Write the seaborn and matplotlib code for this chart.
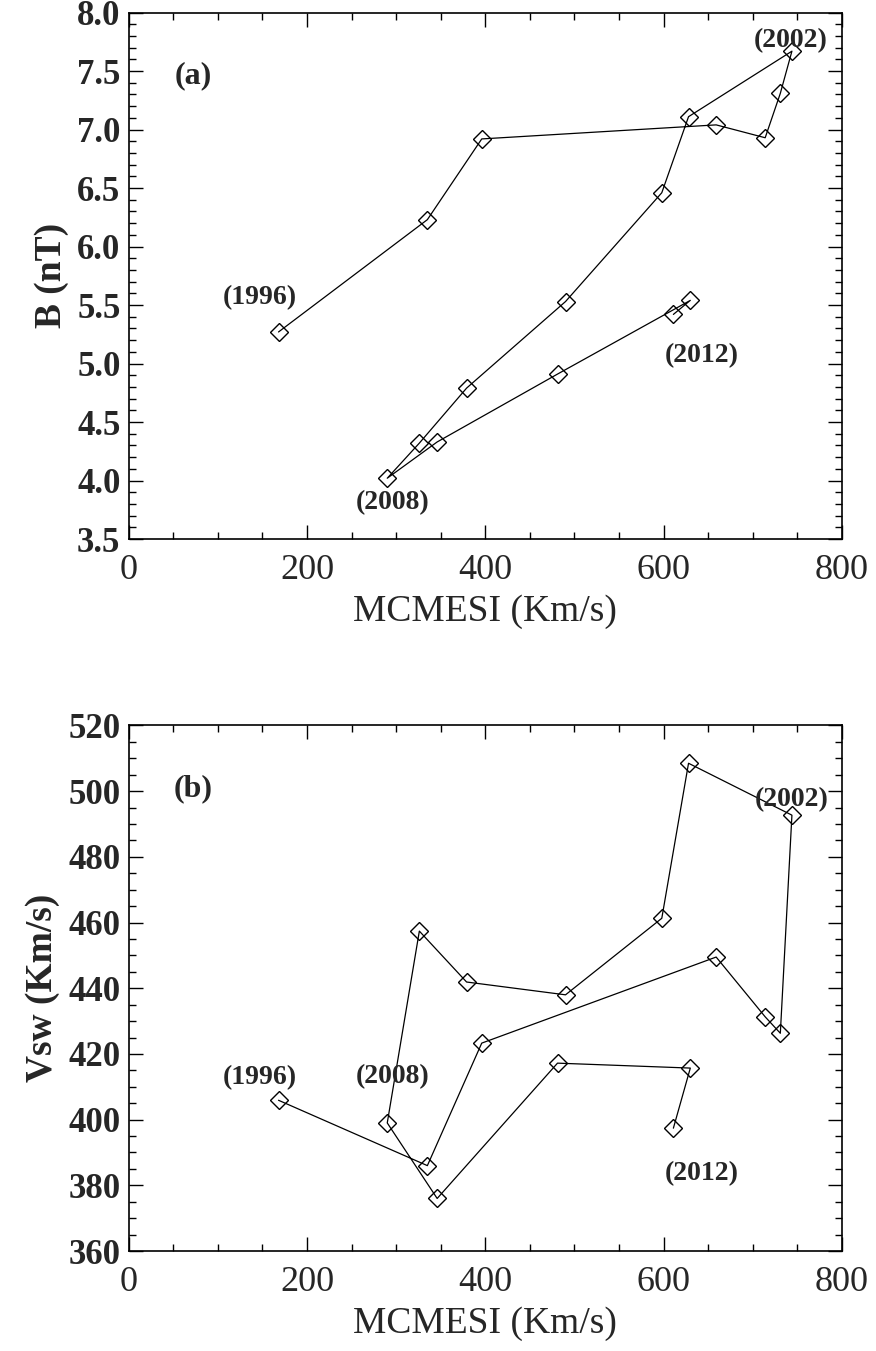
import matplotlib
matplotlib.use("Agg")
import matplotlib.pyplot as plt
import seaborn as sns
import pandas as pd
from matplotlib.ticker import MultipleLocator

years = list(range(1996, 2013))
mcmesi = [168, 335, 396, 659, 714, 731, 744, 628, 598, 490, 379, 326, 290, 346, 481, 630, 611]
b_field = [5.27, 6.23, 6.92, 7.04, 6.93, 7.31, 7.67, 7.11, 6.46, 5.53, 4.79, 4.32, 4.02, 4.33, 4.91, 5.54, 5.42]
vsw = [405.9, 386.0, 423.3, 449.5, 431.3, 426.3, 492.7, 508.5, 461.3, 438.0, 441.9, 457.4, 399.0, 376.0, 417.2, 415.7, 397.4]

year_labels_a = {"(1996)": (147, 5.56), "(2002)": (743, 7.76), "(2012)": (643, 5.07), "(2008)": (296, 3.81)}
year_labels_b = {"(1996)": (147, 412.9), "(2002)": (744, 497.3), "(2012)": (643, 383.7), "(2008)": (296, 413.0)}

df = pd.DataFrame({"year": years, "mcmesi": mcmesi, "B": b_field, "vsw": vsw})

sns.set_theme(style="white")
plt.rcParams["font.family"] = ["Liberation Serif", "DejaVu Serif"]

fig = plt.figure(figsize=(8.76, 13.51), dpi=100)
ax1 = fig.add_axes([0.147, 0.601, 0.814, 0.3897])
ax2 = fig.add_axes([0.147, 0.074, 0.814, 0.389])

line_kw = dict(sort=False, color="black", linewidth=0.9, marker="D", markersize=9,
               markerfacecolor="none", markeredgecolor="black", markeredgewidth=1.0)

sns.lineplot(data=df, x="mcmesi", y="B", ax=ax1, **line_kw)
sns.lineplot(data=df, x="mcmesi", y="vsw", ax=ax2, **line_kw)

for ax, labels in ((ax1, year_labels_a), (ax2, year_labels_b)):
    for txt, (x, y) in labels.items():
        ax.text(x, y, txt, ha="center", va="center", fontsize=20, fontweight="bold")

ax1.text(0.09, 0.88, "(a)", transform=ax1.transAxes, ha="center", va="center", fontsize=23, fontweight="bold")
ax2.text(0.09, 0.88, "(b)", transform=ax2.transAxes, ha="center", va="center", fontsize=23, fontweight="bold")

ax1.set_xlim(0, 800)
ax1.set_ylim(3.5, 8.0)
ax2.set_xlim(0, 800)
ax2.set_ylim(360, 520)

ax1.yaxis.set_major_locator(MultipleLocator(0.5))
ax1.yaxis.set_minor_locator(MultipleLocator(0.1))
ax2.yaxis.set_major_locator(MultipleLocator(20))
ax2.yaxis.set_minor_locator(MultipleLocator(5))
ax1.set_yticklabels([f"{v:.1f}" for v in ax1.get_yticks()])

for ax, ylab in ((ax1, "B (nT)"), (ax2, "Vsw (Km/s)")):
    ax.xaxis.set_major_locator(MultipleLocator(200))
    ax.xaxis.set_minor_locator(MultipleLocator(50))
    ax.tick_params(which="both", direction="in", top=True, right=True, bottom=True, left=True, color="black")
    ax.tick_params(which="major", length=10, width=1.0)
    ax.tick_params(which="minor", length=5, width=1.0)
    ax.tick_params(axis="x", labelsize=26, pad=11)
    ax.tick_params(axis="y", labelsize=25, pad=6)
    for lab in ax.get_yticklabels():
        lab.set_fontweight("bold")
    for s in ax.spines.values():
        s.set_color("black")
        s.set_linewidth(1.2)
    ax.set_xlabel("MCMESI (Km/s)", fontsize=27, labelpad=5)
    ax.set_ylabel(ylab, fontsize=27, fontweight="bold", labelpad=6)
    ax.grid(False)

fig.savefig("out.png", dpi=100, facecolor="white")
